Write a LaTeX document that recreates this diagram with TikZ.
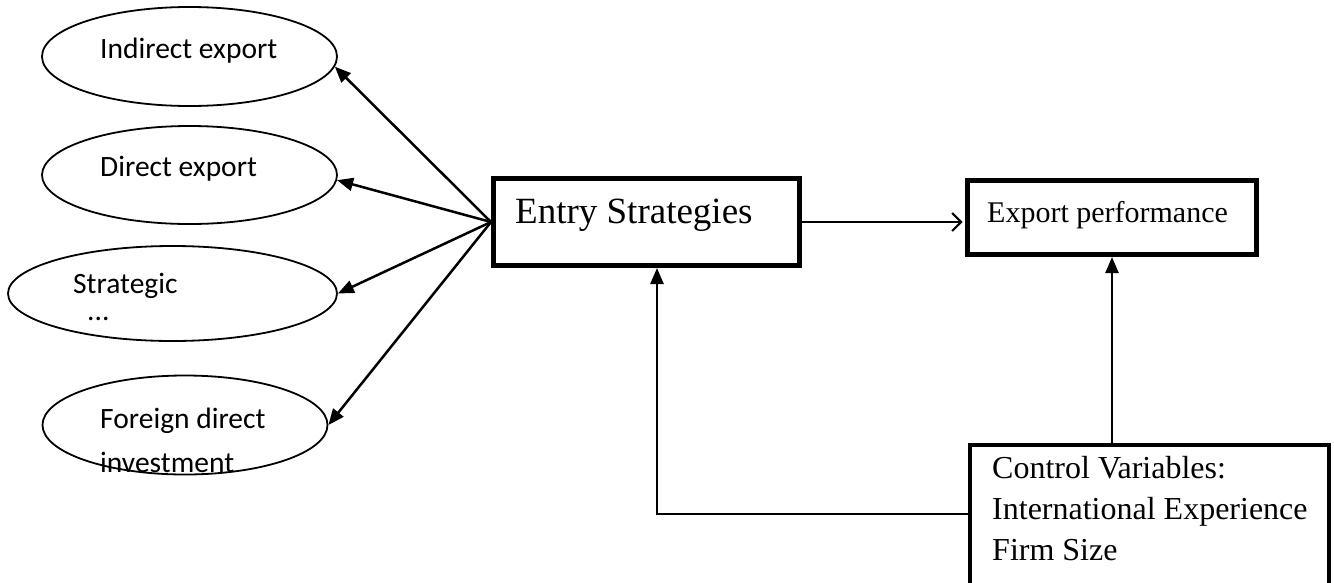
\documentclass[tikz,border=0pt]{standalone}
\usepackage{fontspec}
\setmainfont{Liberation Serif}
\newfontfamily\calfont{Carlito}
\usetikzlibrary{arrows.meta,shapes.geometric}
\begin{document}
\begin{tikzpicture}[x=1pt,y=-1pt,
  oval/.style={draw, ellipse, line width=1.8pt, inner sep=0pt},
  otext/.style={font=\calfont\fontsize{29.5}{35}\selectfont, anchor=base west, inner sep=0pt},
  bigbox/.style={draw, rectangle, line width=5pt, inner sep=0pt},
  ctrlbox/.style={draw, rectangle, line width=3.8pt, inner sep=0pt},
  btext/.style={anchor=base west, inner sep=0pt},
  arr/.style={line width=2.5pt, -{Triangle[length=16pt,width=13pt]}},
  openarr/.style={line width=2pt, shorten >=2.5pt, -{Straight Barb[length=9pt,width=18pt,line width=2pt]}},
]
\useasboundingbox (0,0) rectangle (1334,582);

% ellipses
\node[oval, minimum width=295pt, minimum height=99pt] (ind) at (189.5,56.5) {};
\node[oval, minimum width=295pt, minimum height=98pt] (dir) at (189.5,175) {};
\node[oval, minimum width=329pt, minimum height=95pt] (str) at (172.5,293.5) {};
\node[oval, minimum width=285pt, minimum height=99pt] (fdi) at (185,425) {};

\node[otext] (indt) at (100,58) {Indirect export};
\node[otext] (dirt) at (100,176) {Direct export};
\node[otext] (strt) at (73,293) {Strategic};
\node[otext] (strd) at (87,320) {...};
\node[otext] (fdit) at (100,428) {Foreign direct};
\node[otext] (fdiu) at (100,472) {investment};

% boxes
\node[bigbox, minimum width=306pt, minimum height=87pt] (entry) at (646.5,222) {};
\node[btext, font=\fontsize{37}{44}\selectfont] (entryt) at (515,223) {Entry Strategies};

\node[bigbox, minimum width=289pt, minimum height=74pt] (exp) at (1112,217.5) {};
\node[btext, font=\fontsize{30}{36}\selectfont] (expt) at (987,222) {Export performance};

\node[ctrlbox, minimum width=359pt, minimum height=200pt] (ctrl) at (1149.5,544.9) {};
\node[btext, align=left, font=\fontsize{32}{41}\selectfont] (ctrlt) at (992,560)
  {Control Variables:\\International Experience\\Firm Size};

% connectors
\draw[arr] (entry.west) -- (ind.-4);
\draw[arr] (entry.west) -- (dir.-2);
\draw[arr] (entry.west) -- (str.east);
\draw[arr] (entry.west) -- (fdi.east);

\draw[openarr] (entry.east) -- (entry.east -| exp.west);

\draw[arr] (exp.south |- ctrl.north) -- (exp.south);

\coordinate (bend) at (657,514);
\draw[arr] (ctrl.west |- bend) -- (bend) -- (bend |- entry.south);
\end{tikzpicture}
\end{document}
